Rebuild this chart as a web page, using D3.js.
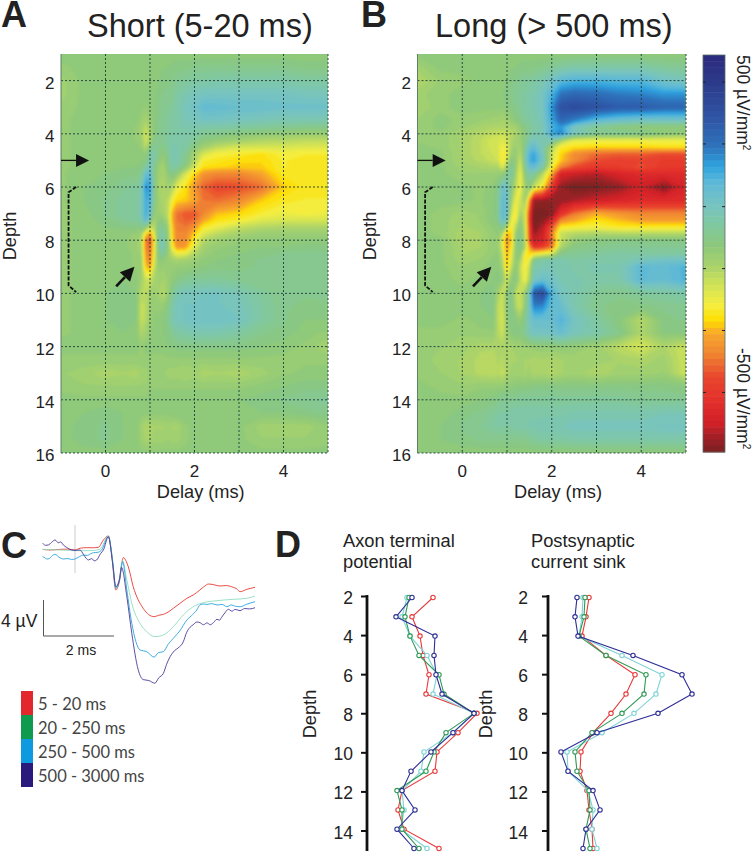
<!DOCTYPE html>
<html>
<head>
<meta charset="utf-8">
<script src="https://cdnjs.cloudflare.com/ajax/libs/d3/7.8.5/d3.min.js"></script>
<style>
html, body { margin: 0; padding: 0; background: #fff; }
text { font-family: "Liberation Sans", Arial, sans-serif; fill: #222; }
</style>
</head>
<body>
<script>
// heat map grid: delay (ms) per column, depth per row
var delays = [-1, -0.5, 0, 0.4, 0.7, 0.8, 0.9, 1, 1.1, 1.2, 1.3, 1.4, 1.5, 1.6, 1.8, 2, 2.2, 2.5, 3, 3.5, 4, 4.5, 5];
var depths = [1, 1.5, 2, 2.5, 3, 3.5, 3.75, 4, 4.25, 4.5, 4.75, 5, 5.25, 5.5, 6, 6.5, 7, 7.25, 7.5, 7.75, 8, 8.25, 8.5, 8.75, 9, 9.5, 10, 10.5, 11, 11.5, 12, 12.5, 13, 13.5, 14, 14.5, 15, 15.5, 16];

// values in tens of uV/mm2
var shortRows = [
  [2,2,2,2,2,2,2,2,2,2,2,2,2,2,2,2,2,2,2,2,2,2,2],
  [1,2,2,2,2,2,2,2,2,2,3,3,4,4,4,5,5,5,5,5,5,4,4],
  [-1,2,3,3,3,2,2,2,3,3,4,4,5,6,7,8,8,9,9,9,9,8,8],
  [-1,2,3,3,3,2,2,2,3,4,5,5,6,8,10,12,13,13,13,13,13,12,12],
  [0,2,3,3,3,2,1,2,3,4,6,6,7,9,12,14,17,17,16,16,15,15,15],
  [1,2,3,3,2,0,-2,0,3,5,6,7,8,9,11,12,13,13,12,11,10,10,10],
  [1,2,3,3,1,-1,-5,-1,3,5,6,7,8,9,10,10,9,9,8,7,6,5,5],
  [1,2,3,3,1,-1,-7,-3,3,5,6,7,8,9,9,8,6,5,3,2,1,0,0],
  [1,2,3,3,1,0,-7,-2,5,5,6,8,9,9,9,6,3,1,-1,-3,-4,-5,-5],
  [1,2,3,3,2,1,-4,3,7,5,4,7,10,10,8,3,-1,-5,-8,-8,-8,-9,-9],
  [1,2,3,3,2,2,1,8,10,4,2,6,10,10,6,-2,-8,-12,-13,-15,-12,-13,-13],
  [1,2,3,3,3,3,3,10,9,2,0,5,10,10,5,-3,-13,-14,-16,-16,-13,-14,-14],
  [1,2,3,3,3,4,8,12,6,0,-2,4,9,8,2,-8,-15,-16,-17,-17,-13,-14,-14],
  [1,3,3,4,4,6,16,18,4,-1,-2,2,5,2,-8,-16,-22,-24,-24,-20,-14,-14,-14],
  [1,3,4,6,7,10,24,23,4,-2,-3,-1,-3,-10,-15,-22,-28,-31,-30,-27,-17,-14,-14],
  [1,3,5,7,8,10,21,20,4,-1,-3,-4,-12,-16,-17,-20,-26,-27,-24,-17,-14,-13,-13],
  [1,2,5,7,8,10,21,16,1,0,-2,-5,-19,-26,-29,-29,-24,-18,-16,-13,-11,-12,-11],
  [1,2,4,6,7,9,18,8,-2,3,2,-3,-19,-26,-28,-27,-20,-15,-13,-9,-8,-8,-8],
  [1,2,3,4,4,5,4,-6,-4,6,5,0,-17,-25,-26,-22,-14,-11,-6,-4,-3,-3,-3],
  [1,2,2,2,1,-1,-14,-22,-8,7,8,1,-16,-24,-24,-17,-9,-5,-2,0,0,0,0],
  [1,2,2,2,0,-3,-24,-31,-12,8,10,2,-15,-24,-23,-13,-4,-1,1,2,2,2,2],
  [1,2,2,2,0,-2,-24,-28,-11,8,11,2,-12,-22,-21,-9,-1,1,2,3,3,4,4],
  [1,2,2,2,1,-1,-22,-26,-10,6,7,1,-6,-11,-10,-4,0,2,3,4,5,5,5],
  [1,2,2,2,1,0,-20,-25,-8,3,2,0,-1,-2,-1,0,2,3,4,5,5,6,6],
  [1,2,2,2,1,0,-17,-21,-6,1,0,0,1,1,1,2,3,4,4,5,5,6,6],
  [1,2,3,3,2,-1,-6,-7,-2,-1,-2,0,2,4,6,7,7,7,6,5,5,6,6],
  [1,2,3,4,3,-4,-5,-1,0,-2,-4,0,6,10,12,12,13,13,11,7,5,5,6],
  [1,2,3,4,3,-6,-5,0,1,1,1,4,9,12,13,13,13,13,12,8,5,4,4],
  [1,2,3,4,3,-6,-4,0,2,2,3,5,10,12,13,14,14,14,13,8,5,3,3],
  [1,2,2,3,2,-3,-1,1,2,2,3,4,6,8,9,10,10,10,8,5,4,2,1],
  [2,2,2,2,2,1,2,2,2,2,2,3,3,4,4,4,4,4,4,3,2,1,-2],
  [1,1,1,1,1,1,1,1,1,1,1,1,1,1,1,1,1,1,1,1,1,1,1],
  [0,-1,-3,-2,-3,-1,-1,0,0,0,0,-1,-1,-1,-2,-1,-3,-2,-3,-1,1,2,2],
  [1,0,0,0,0,0,0,1,1,1,1,1,1,1,1,1,1,1,1,2,3,4,4],
  [2,2,2,2,2,2,2,3,3,3,3,3,3,3,3,3,3,3,3,4,5,6,7],
  [2,3,4,3,3,2,2,2,2,2,2,2,3,3,3,3,3,3,3,3,3,4,5],
  [2,4,5,3,3,-1,-3,-3,-2,-2,-2,-1,-2,-2,1,2,2,2,2,-1,-1,-1,1],
  [2,4,5,3,2,0,-2,-2,-1,-1,-1,0,-1,-1,1,2,2,2,2,0,0,0,1],
  [2,2,2,2,2,2,2,2,2,2,2,2,2,2,2,2,2,2,2,2,2,2,2]
];

var longRows = [
  [2,2,2,2,2,2,2,2,2,2,2,2,2,2,2,2,2,2,2,2,2,2,2],
  [-1,2,2,2,2,2,2,2,3,3,4,4,4,4,5,6,8,9,9,9,9,7,6],
  [-4,0,1,2,2,2,2,3,4,5,6,7,7,8,10,14,18,20,20,19,19,14,12],
  [-1,1,2,2,3,3,3,4,5,6,7,8,9,10,13,20,28,30,29,27,26,24,24],
  [-2,1,2,2,2,2,2,3,4,5,7,8,9,10,13,24,36,38,36,33,33,31,31],
  [0,2,1,0,-1,-1,-2,-1,1,3,5,7,8,9,12,22,30,26,18,15,13,13,13],
  [0,2,0,-2,-3,-3,-3,-3,-2,-1,2,4,6,8,11,20,24,12,6,3,2,2,2],
  [1,1,-2,-4,-6,-6,-7,-6,-4,-3,0,3,7,9,11,22,26,12,6,6,5,3,1],
  [1,1,-2,-5,-8,-8,-9,-7,-3,-1,0,4,10,13,10,10,-1,-10,-11,-11,-11,-11,-11],
  [2,1,-2,-5,-8,-8,-12,-9,-2,0,-2,6,15,17,10,-3,-13,-15,-16,-16,-16,-15,-15],
  [2,2,-2,-5,-7,-8,-14,-9,0,1,-4,8,19,22,12,-7,-16,-23,-27,-28,-28,-30,-30],
  [2,2,-2,-4,-6,-7,-14,-7,5,1,-7,8,20,23,13,-8,-17,-24,-30,-32,-31,-33,-33],
  [2,2,-1,-2,-3,-3,-9,-1,7,0,-9,6,16,17,9,-12,-24,-30,-34,-33,-30,-34,-34],
  [2,2,0,0,0,1,1,5,10,-2,-11,3,9,8,-4,-20,-40,-42,-44,-40,-38,-38,-38],
  [2,2,2,1,2,5,15,13,3,-5,-12,-1,3,-6,-14,-34,-47,-50,-49,-47,-42,-48,-40],
  [2,2,2,1,3,6,17,15,-1,-11,-7,0,-22,-46,-47,-47,-47,-45,-42,-40,-38,-38,-38],
  [2,1,-1,0,3,6,18,14,-8,-13,-2,-6,-34,-50,-50,-48,-36,-26,-19,-22,-24,-24,-24],
  [2,1,-2,0,3,5,17,8,-12,-10,2,-6,-35,-50,-48,-40,-24,-20,-15,-18,-21,-21,-21],
  [2,1,-2,-1,2,3,7,-3,-14,-4,4,-5,-33,-49,-44,-30,-14,-13,-12,-14,-14,-14,-14],
  [2,1,-3,-2,1,2,-4,-19,-16,1,5,-4,-32,-46,-42,-25,-6,-4,-3,-4,-4,-4,-4],
  [2,2,-3,-2,1,1,-10,-23,-16,3,6,-3,-31,-43,-40,-28,-6,1,3,4,4,4,4],
  [2,2,-2,-2,1,1,-10,-22,-14,2,5,-2,-22,-36,-33,-26,-3,4,5,6,6,6,6],
  [2,2,-2,-1,1,2,-6,-20,-10,2,3,-12,-16,-14,-11,-8,4,6,7,8,8,8,8],
  [2,2,-1,0,2,2,-4,-19,-8,2,-2,-14,-10,6,9,10,10,8,9,9,12,14,14],
  [2,2,0,1,2,3,-2,-18,-5,3,-6,-13,-6,9,10,11,11,9,10,10,18,17,20],
  [2,2,1,2,3,4,1,-7,2,4,-5,-12,-2,13,16,14,11,10,9,9,18,16,20],
  [2,2,2,3,4,-2,-7,2,5,-5,-6,0,12,34,38,20,13,10,6,5,7,8,9],
  [2,2,2,3,4,-5,-7,2,6,-3,-7,2,13,26,25,17,16,10,5,4,4,5,6],
  [2,2,1,2,3,-5,-8,1,5,3,1,5,13,16,16,16,20,13,8,3,-4,4,5],
  [1,1,0,1,1,-4,-7,0,3,4,4,6,11,13,13,14,16,12,9,5,-3,3,3],
  [1,0,-1,-3,-3,-2,-3,-2,-2,-1,-1,0,0,1,1,1,2,1,-1,-5,-8,-3,-7],
  [1,-1,-2,-4,-5,-3,-4,-2,-2,-2,-1,-2,-2,-3,-2,-3,-2,-1,-1,-2,-3,-1,-7],
  [1,0,-2,-4,-5,-4,-6,-3,-1,-1,-1,-2,-1,-3,-2,-4,-2,-1,-3,-1,-1,0,-7],
  [2,1,0,1,1,1,1,2,2,3,3,3,3,4,4,4,4,4,4,4,4,4,3],
  [2,2,2,3,4,5,6,6,6,6,7,7,7,7,7,7,7,7,7,7,6,6,6],
  [2,2,4,5,7,8,8,8,9,9,9,9,9,9,9,9,9,10,10,10,10,11,11],
  [2,3,5,6,8,8,8,8,8,9,9,9,10,10,11,11,11,12,12,12,12,13,13],
  [2,3,4,5,5,5,5,5,5,5,5,5,6,7,8,8,8,9,9,9,9,9,9],
  [2,2,2,2,2,2,2,2,2,2,2,2,2,2,2,2,2,2,2,2,2,2,2]
];

// colour bar stops, tens of uV/mm2 top to bottom
var barValues = [50, 43, 34, 27, 22, 18, 12, 7, 2, -3, -9, -13, -17, -20, -26, -31, -37, -43, -47, -50];
var barColors = ["#2c2a7e", "#2c3a8a", "#2f55a5", "#2f72bb", "#2ea3df", "#5cb8d8", "#78c4c0", "#80c8a0", "#8cc87c", "#a8d26c", "#d8e552", "#f5ee40", "#fedc00", "#f8a92c", "#ef8031", "#e9472d", "#e4302c", "#cf2028", "#982025", "#7c2024"];

// panel C traces (ms, uV)
var traceNames = ["5 - 20 ms", "20 - 250 ms", "250 - 500 ms", "500 - 3000 ms"];
var traceColors = ["#e8392f", "#8fdcc0", "#2ba3e0", "#4a3a9a"];
var legendColors = ["#e2282c", "#0f9b4f", "#0f9ae0", "#2a1a7c"];
var redTrace = [[-0.91,0.07],[-0.7,0],[-0.42,0.07],[-0.2,0.1],[0,0],[0.15,0.2],[0.33,0.26],[0.5,0.25],[0.66,0.3],[0.8,1.11],[0.94,1.56],[1.03,-0.37],[1.15,-4.44],[1.25,-3.52],[1.36,-0.85],[1.5,-1.85],[1.64,-4.07],[1.92,-6.48],[2.23,-7.41],[2.36,-7.25],[2.49,-7.15],[2.62,-6.9],[2.77,-6.48],[2.95,-5.95],[3.15,-5.37],[3.33,-5],[3.52,-4.44],[3.64,-4.05],[3.76,-3.78],[3.9,-3.85],[4.08,-4],[4.25,-3.95],[4.46,-4.15],[4.55,-4.3],[4.65,-4.63],[4.84,-4.37],[5.07,-4.15]];
var mintTrace = [[-0.91,0.07],[-0.42,0],[0,-0.07],[0.42,-0.07],[0.7,0.07],[0.94,1.56],[1.06,-1.11],[1.15,-4.26],[1.25,-3.15],[1.34,-1.19],[1.46,-3.33],[1.6,-5.93],[1.83,-8.15],[2.02,-9.07],[2.25,-9.63],[2.49,-9.44],[2.77,-8.52],[3.05,-7.22],[3.33,-6.3],[3.62,-5.85],[4,-5.63],[4.46,-5.48],[4.84,-5.37],[5.07,-5.11]];
var blueTrace = [[-0.91,-0.74],[-0.85,-0.85],[-0.8,-1],[-0.72,-0.95],[-0.65,-0.65],[-0.56,-0.48],[-0.45,-0.8],[-0.33,-1],[-0.2,-0.95],[-0.1,-1.05],[0,-1],[0.12,-0.75],[0.23,-0.56],[0.35,-0.6],[0.45,-0.4],[0.52,-0.3],[0.65,-0.25],[0.75,0],[0.94,1.48],[1.06,-1.3],[1.15,-4.26],[1.25,-3.33],[1.34,-1.3],[1.46,-4.44],[1.6,-8.15],[1.83,-11.1],[2.02,-11.3],[2.23,-11.9],[2.35,-11.4],[2.49,-11.3],[2.62,-10.5],[2.77,-9.81],[2.95,-9],[3.15,-7.78],[3.28,-7.3],[3.43,-6.67],[3.52,-6.1],[3.62,-6],[3.72,-6.05],[3.85,-5.95],[4,-6.11],[4.14,-6.05],[4.28,-6.3],[4.4,-6.1],[4.52,-6.25],[4.65,-6.3],[4.85,-6],[5.07,-5.74]];
var navyTrace = [[-0.91,0.74],[-0.83,0.52],[-0.75,0.56],[-0.66,0.85],[-0.56,1.11],[-0.47,0.8],[-0.4,0.9],[-0.33,0.56],[-0.24,0.3],[-0.14,0.07],[0,-0.05],[0.14,0],[0.24,-0.5],[0.31,-0.9],[0.38,-1.11],[0.47,-0.95],[0.54,-1.2],[0.61,-1.11],[0.72,-0.4],[0.8,0],[0.94,1.48],[1.06,-1.48],[1.15,-4.07],[1.25,-3.33],[1.31,-1.93],[1.46,-5.19],[1.6,-9.26],[1.78,-13.3],[1.92,-14.4],[2.08,-14.5],[2.25,-14.8],[2.36,-14.2],[2.49,-13.7],[2.58,-12.7],[2.68,-11.85],[2.8,-11.2],[2.9,-10.9],[3.05,-10.2],[3.14,-9.2],[3.24,-8.59],[3.33,-8.3],[3.43,-8],[3.52,-8.07],[3.62,-8.3],[3.72,-8.1],[3.81,-8.3],[3.9,-8.07],[4,-7.7],[4.07,-7.8],[4.13,-7.48],[4.22,-7],[4.32,-6.59],[4.42,-6.8],[4.51,-6.6],[4.65,-6.74],[4.78,-6.5],[4.92,-6.55],[5.07,-6.41]];

// panel D profiles, amplitude per depth 2..15
var profileDepths = [2, 3, 4, 5, 6, 7, 8, 9, 10, 11, 12, 13, 14, 15];
var axonRed = [43, 22, 30, 33, 39, 36, 87, 68, 47, 45, 12, 8, 14, 49];
var axonMint = [17, 12, 20, 37, 47, 43, 84, 63, 34, 31, 12, 14, 11, 37];
var axonGreen = [19, 15, 20, 29, 49, 54, 84, 56, 44, 36, 7, 12, 12, 29];
var axonNavy = [22, 6, 45, 44, 46, 52, 84, 63, 41, 21, 12, 25, 7, 24];
var sinkRed = [29, 26, 22, 46, 75, 66, 51, 33, 21, 20, 27, 29, 32, 33];
var sinkMint = [23, 22, 19, 62, 102, 96, 74, 42, 7, 8, 28, 33, 32, 37];
var sinkGreen = [25, 24, 19, 46, 86, 84, 62, 32, 15, 17, 29, 30, 26, 30];
var sinkNavy = [17, 15, 18, 73, 122, 132, 98, 37, 1, 8, 33, 40, 26, 23];

var width = 756, height = 853;

var svg = d3.select("body").append("svg")
    .attr("width", width)
    .attr("height", height)
    .style("display", "block");

var defs = svg.append("defs");
defs.append("filter").attr("id", "soft")
    .attr("x", "-2%").attr("y", "-2%").attr("width", "104%").attr("height", "104%")
    .append("feGaussianBlur").attr("stdDeviation", 0.8);

var heatColor = d3.scaleLinear().domain(barValues).range(barColors).clamp(true);
var thresholds = d3.range(64).map(function (i) { return -52 + i * 102 / 63; });

function arrow(g, x1, y1, x2, y2, size, sw) {
    var a = Math.atan2(y2 - y1, x2 - x1);
    var bx = x2 - size * Math.cos(a), by = y2 - size * Math.sin(a);
    var hw = size * 0.5;
    g.append("line").attr("x1", x1).attr("y1", y1).attr("x2", bx).attr("y2", by)
        .attr("stroke", "#111").attr("stroke-width", sw);
    g.append("path")
        .attr("d", "M" + x2 + "," + y2 + "L" + (bx - hw * Math.sin(a)) + "," + (by + hw * Math.cos(a)) +
            "L" + (bx + hw * Math.sin(a)) + "," + (by - hw * Math.cos(a)) + "Z")
        .attr("fill", "#111");
}

function heatPanel(id, rows, left, right, letter, letterX, title, titleX, depthX) {
    var x = d3.scaleLinear().domain([-1, 5]).range([left, right]);
    var y = d3.scaleLinear().domain([1, 16]).range([54, 453]);
    var g = svg.append("g");

    var colIdx = d3.scaleLinear().domain(d3.range(delays.length)).range(delays).clamp(true);
    var rowIdx = d3.scaleLinear().domain(d3.range(depths.length)).range(depths).clamp(true);
    var project = d3.geoTransform({
        point: function (px, py) { this.stream.point(x(colIdx(px - 0.5)), y(rowIdx(py - 0.5))); }
    });
    var path = d3.geoPath(project);
    var flat = d3.merge(rows);
    var contours = d3.contours()
        .size([delays.length, depths.length])
        .smooth(true)
        .thresholds(thresholds)(flat);

    defs.append("clipPath").attr("id", "clip" + id)
        .append("rect")
        .attr("x", left).attr("y", y(1))
        .attr("width", right - left).attr("height", y(16) - y(1));

    var plot = g.append("g").attr("clip-path", "url(#clip" + id + ")");
    plot.append("rect")
        .attr("x", left).attr("y", y(1))
        .attr("width", right - left).attr("height", y(16) - y(1))
        .attr("fill", heatColor(2));
    plot.append("g").attr("filter", "url(#soft)")
        .selectAll("path")
        .data(contours)
        .enter().append("path")
        .attr("d", path)
        .attr("fill", function (d) { return heatColor(d.value); });

    // dotted grid
    var grid = g.append("g").attr("stroke", "#1d3a3a").attr("stroke-width", 0.9).attr("stroke-dasharray", "2,2");
    [0, 1, 2, 3, 4, 5].forEach(function (d) {
        grid.append("line").attr("x1", x(d)).attr("x2", x(d)).attr("y1", y(1)).attr("y2", y(16));
    });
    [2, 4, 6, 8, 10, 12, 14, 16].forEach(function (d) {
        grid.append("line").attr("x1", left).attr("x2", right).attr("y1", y(d)).attr("y2", y(d));
    });
    g.append("line").attr("x1", left).attr("x2", left).attr("y1", y(1)).attr("y2", y(16))
        .attr("stroke", "#5f7f66").attr("stroke-width", 1);

    // tick labels
    g.selectAll(".ylab").data([2, 4, 6, 8, 10, 12, 14, 16]).enter().append("text")
        .attr("x", left - 6.5).attr("y", function (d) { return y(d) + 8; })
        .attr("text-anchor", "end").attr("font-size", 17)
        .text(function (d) { return d; });
    g.selectAll(".xlab").data([0, 2, 4]).enter().append("text")
        .attr("x", x).attr("y", 477)
        .attr("text-anchor", "middle").attr("font-size", 17)
        .text(function (d) { return d; });
    g.append("text").attr("x", x(2.14)).attr("y", 498)
        .attr("text-anchor", "middle").attr("font-size", 18.2).text("Delay (ms)");
    g.append("text")
        .attr("transform", "translate(" + depthX + ",236) rotate(-90)")
        .attr("text-anchor", "middle").attr("font-size", 18.2).text("Depth");

    g.append("text").attr("x", letterX).attr("y", 27)
        .attr("font-size", 36).attr("font-weight", "bold").attr("fill", "#111").text(letter);
    g.append("text").attr("x", titleX).attr("y", 37)
        .attr("font-size", 32.5).text(title);

    // annotations
    arrow(g, x(-1), y(5), x(-0.37), y(5), 13, 1.3);
    arrow(g, x(0.24), y(9.74), x(0.65), y(9), 14, 2.6);
    g.append("path")
        .attr("d", "M" + x(-0.66) + "," + y(6) + "L" + x(-0.83) + "," + y(6.2) +
            "L" + x(-0.83) + "," + y(9.7) + "L" + x(-0.66) + "," + y(9.95))
        .attr("fill", "none").attr("stroke", "#111").attr("stroke-width", 1.8)
        .attr("stroke-dasharray", "4,1.5");
}

heatPanel("A", shortRows, 61, 328, "A", 1, "Short (5-20 ms)", 87, 16);
heatPanel("B", longRows, 417.5, 686, "B", 361, "Long (> 500 ms)", 435, 376);

// colour bar
var barY = d3.scaleLinear().domain([50, -50]).range([55, 452]);
var barG = svg.append("g");
var bands = d3.range(64).map(function (i) { return 50 - i * 100 / 64; });
barG.selectAll("rect").data(bands).enter().append("rect")
    .attr("x", 703).attr("width", 22)
    .attr("y", function (d) { return barY(d); })
    .attr("height", barY(0) - barY(100 / 64) + 0.5)
    .attr("fill", function (d) { return heatColor(d - 0.8); });
barG.append("rect").attr("x", 703).attr("y", 55).attr("width", 22).attr("height", 397)
    .attr("fill", "none").attr("stroke", "#5a6f6a").attr("stroke-width", 0.8);
[43.2, 27.6, 11.8, -3.8, -19.4, -35].forEach(function (d) {
    barG.append("line").attr("x1", 703).attr("x2", 706).attr("y1", barY(d)).attr("y2", barY(d)).attr("stroke", "#223");
    barG.append("line").attr("x1", 722).attr("x2", 725).attr("y1", barY(d)).attr("y2", barY(d)).attr("stroke", "#223");
});
[["500 µV/mm", 55], ["-500 µV/mm", 348]].forEach(function (d) {
    var t = barG.append("text")
        .attr("transform", "translate(737," + d[1] + ") rotate(90)")
        .attr("font-size", 17.5);
    t.append("tspan").text(d[0]);
    t.append("tspan").attr("dy", -6).attr("font-size", 10).text("2");
});

// panel C
var cx = d3.scaleLinear().domain([0, 2]).range([75, 146]);
var cy = d3.scaleLinear().domain([0, -4]).range([550, 586]);
var cG = svg.append("g");
cG.append("text").attr("x", 1).attr("y", 558).attr("font-size", 36).attr("font-weight", "bold").attr("fill", "#111").text("C");
cG.append("line").attr("x1", cx(0)).attr("x2", cx(0)).attr("y1", 525).attr("y2", 573).attr("stroke", "#ccc");
var traceLine = d3.line().curve(d3.curveMonotoneX).x(function (d) { return cx(d[0]); }).y(function (d) { return cy(d[1]); });
[redTrace, mintTrace, blueTrace, navyTrace].forEach(function (tr, i) {
    cG.append("path").attr("d", traceLine(tr)).attr("fill", "none")
        .attr("stroke", traceColors[i]).attr("stroke-width", 0.9);
});
cG.append("path").attr("d", "M43.5,600V636H114").attr("fill", "none").attr("stroke", "#555").attr("stroke-width", 1);
cG.append("text").attr("x", 1).attr("y", 627).attr("font-size", 17.5).text("4 µV");
cG.append("text").attr("x", 81).attr("y", 655).attr("text-anchor", "middle").attr("font-size", 14).text("2 ms");

// legend
var legY = d3.scaleBand().domain(traceNames).range([691, 787]);
cG.selectAll(".sw").data(traceNames).enter().append("rect")
    .attr("x", 21).attr("width", 12)
    .attr("y", function (d) { return legY(d); })
    .attr("height", legY.bandwidth())
    .attr("fill", function (d, i) { return legendColors[i]; });
cG.selectAll(".lt").data(traceNames).enter().append("text")
    .attr("x", 38).attr("y", function (d) { return legY(d) + 19; })
    .attr("font-size", 16.5).style("font-family", "Lato, sans-serif").style("fill", "#444")
    .text(function (d) { return d; });

// panel D
var profileY = d3.scaleLinear().domain([2, 15]).range([597.5, 848.5]);
var axisY = d3.scaleLinear().domain([2, 14]).range([596, 830.5]);

function profilePanel(axisX, labelX, depthX, originX, titleX, lines, series) {
    var g = svg.append("g");
    var px = d3.scaleLinear().domain([0, 100]).range([originX, originX + 100]);
    var yAxis = d3.axisLeft(axisY).tickValues([2, 4, 6, 8, 10, 12, 14]).tickSize(6).tickFormat(d3.format("d"));
    var ax = g.append("g").attr("transform", "translate(" + axisX + ",0)").call(yAxis);
    ax.select(".domain").remove();
    ax.selectAll("line").attr("stroke", "#111").attr("stroke-width", 2);
    ax.selectAll("text").remove();
    g.append("line").attr("x1", axisX).attr("x2", axisX).attr("y1", 595).attr("y2", 851)
        .attr("stroke", "#111").attr("stroke-width", 2.8);
    g.selectAll(".lab").data([2, 4, 6, 8, 10, 12, 14]).enter().append("text")
        .attr("x", labelX).attr("y", function (d) { return axisY(d) + 8; })
        .attr("text-anchor", "end").attr("font-size", 17.5)
        .text(function (d) { return d; });
    g.append("text")
        .attr("transform", "translate(" + depthX + ",714) rotate(-90)")
        .attr("text-anchor", "middle").attr("font-size", 18.2).text("Depth");
    lines.forEach(function (s, i) {
        g.append("text").attr("x", titleX).attr("y", 547 + i * 21).attr("font-size", 18.3).text(s);
    });
    var colors = ["#e8393a", "#7fd3d6", "#2e9a55", "#2e2e96"];
    var line = d3.line()
        .x(function (d) { return px(d); })
        .y(function (d, i) { return profileY(profileDepths[i]); });
    series.forEach(function (s, i) {
        g.append("path").attr("d", line(s)).attr("fill", "none")
            .attr("stroke", colors[i]).attr("stroke-width", 1.1);
        g.selectAll(".pt" + i).data(s).enter().append("circle")
            .attr("cx", function (d) { return px(d); })
            .attr("cy", function (d, j) { return profileY(profileDepths[j]); })
            .attr("r", 2.2)
            .attr("fill", "#fff").attr("stroke", colors[i]).attr("stroke-width", 1.1);
    });
}

svg.append("text").attr("x", 275).attr("y", 557).attr("font-size", 36).attr("font-weight", "bold").attr("fill", "#111").text("D");
profilePanel(367, 353, 316, 390, 343, ["Axon terminal", "potential"], [axonRed, axonMint, axonGreen, axonNavy]);
profilePanel(548, 528, 492, 560, 531, ["Postsynaptic", "current sink"], [sinkRed, sinkMint, sinkGreen, sinkNavy]);
</script>
</body>
</html>
